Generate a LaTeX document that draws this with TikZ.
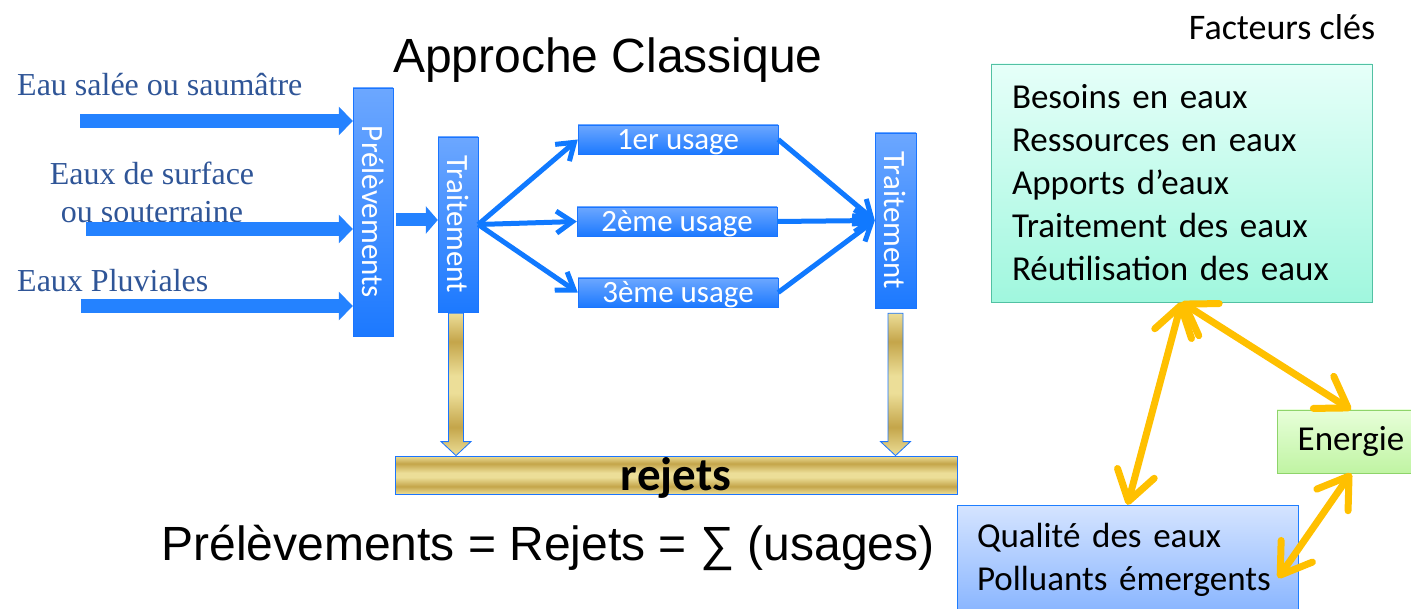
\documentclass[tikz,border=0pt]{standalone}
\usepackage{fontspec}
\setmainfont{Carlito}
\newfontfamily\arialfont{Liberation Sans}
\newfontfamily\timesfont{Liberation Serif}
\usetikzlibrary{calc,arrows.meta}

\definecolor{boxtop}{RGB}{108,167,255}
\definecolor{boxbot}{RGB}{28,121,255}
\definecolor{boxline}{RGB}{26,117,255}
\definecolor{flowblue}{RGB}{16,121,255}
\definecolor{inblue}{RGB}{36,130,255}
\definecolor{labelblue}{RGB}{47,85,151}
\definecolor{goldlight}{RGB}{236,222,152}
\definecolor{golddark}{RGB}{196,165,74}
\definecolor{linkgold}{RGB}{255,192,0}
\definecolor{tealtop}{RGB}{230,255,249}
\definecolor{tealbot}{RGB}{160,247,222}
\definecolor{tealline}{RGB}{82,193,163}
\definecolor{greentop}{RGB}{231,255,217}
\definecolor{greenbot}{RGB}{192,244,163}
\definecolor{greenline}{RGB}{142,212,106}
\definecolor{qualtop}{RGB}{213,228,255}
\definecolor{qualbot}{RGB}{135,180,255}
\definecolor{qualline}{RGB}{30,126,255}

\pgfdeclareverticalshading{goldbar}{100bp}{color(0bp)=(goldlight); color(25bp)=(goldlight);
  color(35bp)=(golddark); color(47bp)=(goldlight); color(53bp)=(goldlight);
  color(65bp)=(golddark); color(75bp)=(goldlight); color(100bp)=(goldlight)}

\begin{document}
\begin{tikzpicture}[x=1pt,y=-1pt,
    vbox/.style={draw=boxline, top color=boxtop, bottom color=boxbot, inner sep=0pt,
      text=white, font=\fontsize{31}{31}\selectfont},
    ubox/.style={vbox, minimum width=200pt, minimum height=29pt, text height=21pt, text depth=0pt},
    src/.style={text=labelblue, inner sep=0pt, font=\timesfont\fontsize{32}{38}\selectfont},
    inflow/.style={draw=inblue, line width=14pt, -{Triangle[length=14pt,width=28pt]}},
    flow/.style={draw=flowblue, line width=5pt, -{Straight Barb[length=16pt,width=22pt]}},
    outflow/.style={draw=boxline, line width=0.8pt, shading=goldbar},
    link/.style={draw=linkgold, line width=7pt, line cap=round,
      {Straight Barb[length=29pt,width=38pt,round]}-{Straight Barb[length=29pt,width=38pt,round]}},
    keybox/.style={draw=#1line, top color=#1top, bottom color=#1bot, inner sep=0pt,
      font=\fontsize{35}{43}\selectfont, align=left}]
    \useasboundingbox (0,0) rectangle (1411,609);

    % titres
    \node[font=\arialfont\fontsize{48}{48}\selectfont] (title) at (608,60) {Approche Classique};
    \node[font=\fontsize{36}{36}\selectfont] (facteurs) at (1282,27) {Facteurs clés};

    % sources
    \node[src, anchor=west] (sal) at (17,85) {Eau salée ou saumâtre};
    \node[src, align=center] (surf) at (152,192) {Eaux de surface\\ou souterraine};
    \node[src, anchor=west] (pluv) at (17,281) {Eaux Pluviales};

    % boites
    \node[vbox, minimum width=40pt, minimum height=248pt] (pre) at (373,212) {\rotatebox{-90}{Prélèvements}};
    \node[vbox, minimum width=40pt, minimum height=175pt] (tr1) at (458,224.5) {\rotatebox{-90}{Traitement}};
    \node[vbox, minimum width=41pt, minimum height=175pt] (tr2) at (895.5,220.5) {\rotatebox{-90}{Traitement}};
    \node[ubox] (u1) at (678,139.5) {1er usage};
    \node[ubox] (u2) at (677,221.5) {2ème usage};
    \node[ubox] (u3) at (678,292.5) {3ème usage};
    \node[outflow, minimum width=562pt, minimum height=38pt, inner sep=0pt, text height=30pt, text depth=0pt,
      font=\bfseries\fontsize{47}{47}\selectfont] (rej) at (676,475) {rejets};
    \node[font=\arialfont\fontsize{48}{48}\selectfont] (eq) at (548,548) {Prélèvements = Rejets = ∑ (usages)};

    % fleches d'entree
    \coordinate (in1) at (80,121);
    \coordinate (in2) at (86,229);
    \coordinate (in3) at (81,306);
    \coordinate (mid) at (396,220);
    \draw[inflow] (in1) -- (pre.west |- in1);
    \draw[inflow] (in2) -- (pre.west |- in2);
    \draw[inflow] (in3) -- (pre.west |- in3);
    \draw[inflow, line width=13pt, -{Triangle[length=12pt,width=27pt]}] (mid) -- (tr1.west |- mid);

    % usages
    \foreach \u in {u1,u2,u3} {
        \draw[flow] (tr1.east) -- (\u.west);
        \draw[flow] (\u.east) -- (tr2.west);
    }

    % rejets
    \coordinate (d1) at ($(tr1.south)+(-2,1)$);
    \coordinate (d1t) at (d1 |- rej.north);
    \coordinate (d2) at ($(tr2.south)+(0,5)$);
    \coordinate (d2t) at (d2 |- rej.north);
    \draw[outflow] ($(d1)+(-7.5,0)$) -- ($(d1t)+(-7.5,-14)$) -- ($(d1t)+(-15,-14)$) -- (d1t)
        -- ($(d1t)+(15,-14)$) -- ($(d1t)+(7.5,-14)$) -- ($(d1)+(7.5,0)$) -- cycle;
    \draw[outflow] ($(d2)+(-7.5,0)$) -- ($(d2t)+(-7.5,-14)$) -- ($(d2t)+(-15,-14)$) -- (d2t)
        -- ($(d2t)+(15,-14)$) -- ($(d2t)+(7.5,-14)$) -- ($(d2)+(7.5,0)$) -- cycle;

    % facteurs cles
    \node[keybox=teal, minimum width=381pt, minimum height=238pt, text width=339pt] (fac) at (1181.5,183)
        {Besoins en eaux\\Ressources en eaux\\Apports d’eaux\\Traitement des eaux\\Réutilisation des eaux};
    \node[keybox=green, minimum width=148pt, minimum height=63pt] (ene) at (1351,441.5) {Energie};
    \node[keybox=qual, minimum width=341pt, minimum height=110pt, text width=301pt] (qua) at (1127.5,560)
        {Qualité des eaux\\Polluants émergents};

    \draw[link] (fac.south) -- (qua.north);
    \draw[link] (fac.south) -- (ene.north);
    \draw[link] (ene.south) -- ($(qua.east)+(-20,18)$);
\end{tikzpicture}
\end{document}
